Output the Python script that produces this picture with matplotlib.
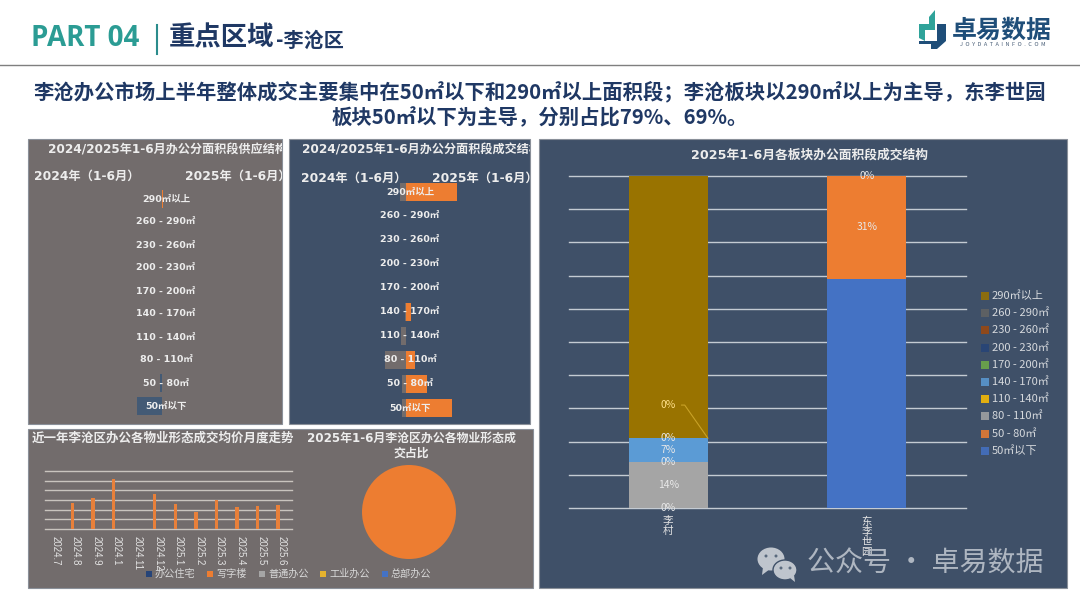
import numpy as np
import matplotlib
matplotlib.use('Agg')
import matplotlib.pyplot as plt
from matplotlib.patches import Rectangle, Polygon, Ellipse

plt.rcParams['font.family'] = ['Noto Sans CJK SC', 'DejaVu Sans']
LATIN_FIRST = ['DejaVu Sans', 'Noto Sans CJK SC']

W, H = 1080, 608
GRAY = '#726C6C'
NAVY = '#3F5068'
ORANGE = '#ED7D31'
DARK = '#1F3864'
TEXT = '#EDEDED'

# area bands, bottom to top
bands = ['50㎡以下', '50 - 80㎡', '80 - 110㎡', '110 - 140㎡', '140 - 170㎡',
         '170 - 200㎡', '200 - 230㎡', '230 - 260㎡', '260 - 290㎡', '290㎡以上']
band_colors = ['#4472C4', '#ED7D31', '#A5A5A5', '#FFC000', '#5B9BD5',
               '#70AD47', '#264478', '#9E480E', '#636363', '#997300']

# supply structure, share %
supply_2024 = [19, 1.5, 0, 0, 0, 0, 0, 0, 0, 0]
supply_2025 = [0, 0, 0, 0, 0, 0, 0, 0, 0, 1]
# deal structure, share %
deal_2024 = [3, 3, 16, 4, 1, 0, 0, 0, 0, 4.5]
deal_2025 = [35, 16, 7, 0, 4, 0, 0, 0, 0, 38.5]

# price trend
months = ['2024.7', '2024.8', '2024.9', '2024.1', '2024.11', '2024.12',
          '2025.1', '2025.2', '2025.3', '2025.4', '2025.5', '2025.6']
office_price = [0, 2690, 3200, 5170, 0, 3620, 2590, 1760, 3000, 2280, 2380, 2480]
type_names = ['办公住宅', '写字楼', '普通办公', '工业办公', '总部办公']
type_colors = ['#264478', '#ED7D31', '#A5A5A5', '#E6B32E', '#4472C4']
type_share = [0, 100, 0, 0, 0]

# sub-market structure
markets = ['李\n村', '东\n李\n世\n园']
market_shares = {
    '50㎡以下': [0, 69],
    '50 - 80㎡': [0, 31],
    '80 - 110㎡': [14, 0],
    '110 - 140㎡': [0, 0],
    '140 - 170㎡': [7, 0],
    '170 - 200㎡': [0, 0],
    '200 - 230㎡': [0, 0],
    '230 - 260㎡': [0, 0],
    '260 - 290㎡': [0, 0],
    '290㎡以上': [79, 0],
}


def px_axes(x0, y0, x1, y1):
    ax = fig.add_axes([x0 / W, 1 - y1 / H, (x1 - x0) / W, (y1 - y0) / H])
    ax.patch.set_alpha(0)
    for s in ax.spines.values():
        s.set_visible(False)
    return ax


def butterfly(box, center, top_row, step, left, right, left_color):
    x0, y0, x1, y1 = box
    ax = px_axes(x0, y0, x1, y1)
    scale = 1.32
    ax.set_xlim((x0 - center) / scale, (x1 - center) / scale)
    bottom_row = top_row + 9 * step
    ax.set_ylim(-(y1 - bottom_row) / step, (bottom_row - y0) / step)
    rows = np.arange(10)
    ax.barh(rows, -np.array(left), height=0.76, color=left_color, lw=0)
    ax.barh(rows, right, height=0.76, color=ORANGE, lw=0)
    for r, name in zip(rows, bands):
        ax.text(3, r, name, color=TEXT, fontsize=6.8, fontweight='bold',
                ha='center', va='center', family=LATIN_FIRST)
    ax.set_xticks([])
    ax.set_yticks([])
    return ax


fig = plt.figure(figsize=(W / 100, H / 100), dpi=100, facecolor='white')

# page layer in pixel coordinates
bg = fig.add_axes([0, 0, 1, 1])
bg.set_xlim(0, W)
bg.set_ylim(H, 0)
bg.axis('off')

for x0, y0, x1, y1, c in [(28, 139, 282, 424, GRAY), (289, 139, 530, 424, NAVY),
                          (28, 429, 533, 588, GRAY), (539, 139, 1067, 588, NAVY)]:
    bg.add_patch(Rectangle((x0, y0), x1 - x0, y1 - y0, fc=c, ec='#8A9099', lw=0.8))

# header
bg.text(31, 39, 'PART 04', color='#2B9C94', fontsize=20, fontweight='bold',
        family=['Open Sans', 'DejaVu Sans'], va='center')
bg.plot([157, 157], [25, 54], color='#2B8C8C', lw=1.5)
bg.text(169, 38, '重点区域', color=DARK, fontsize=19, fontweight='bold', va='center')
bg.text(276, 40, '-李沧区', color=DARK, fontsize=14.5, fontweight='bold', va='center')
bg.plot([0, W], [64.5, 64.5], color='#7F7F7F', lw=1)

bg.text(540, 92, '李沧办公市场上半年整体成交主要集中在50㎡以下和290㎡以上面积段；李沧板块以290㎡以上为主导，东李世园',
        color=DARK, fontsize=14.65, fontweight='bold', ha='center', va='center')
bg.text(540, 118, '板块50㎡以下为主导，分别占比79%、69%。',
        color=DARK, fontsize=14.65, fontweight='bold', ha='center', va='center')

# logo
bg.add_patch(Polygon([(929, 17), (935, 10), (935, 30), (929, 30)], fc='#2FA39A', lw=0))
bg.add_patch(Polygon([(919, 24), (935, 24), (935, 30), (925, 30), (925, 41), (919, 38)], fc='#2FA39A', lw=0))
bg.add_patch(Polygon([(937, 24), (946, 24), (946, 41), (937, 49), (931, 49), (931, 44), (919, 44), (919, 41), (937, 41)],
                     fc='#1F4E79', lw=0))
bg.text(1002, 31, '卓易数据', color='#1F4E79', fontsize=18, fontweight='bold', ha='center', va='center')
bg.text(1003, 44, 'J  O  Y  D  A  T  A  I  N  F  O  .  C  O  M', color='#4A5F78', fontsize=4, ha='center', va='center')

# supply butterfly
ax1 = butterfly((28, 139, 282, 424), 162, 199, 23, supply_2024, supply_2025, '#435A75')
bg_title = dict(color=TEXT, fontweight='bold', va='center', family=LATIN_FIRST, clip_on=True)
ax1.text(0.079, 0.961, '2024/2025年1-6月办公分面积段供应结构', transform=ax1.transAxes, fontsize=8.7, **bg_title)
ax1.text(0.024, 0.87, '2024年（1-6月）', transform=ax1.transAxes, fontsize=8.8, **bg_title)
ax1.text(0.62, 0.87, '2025年（1-6月）', transform=ax1.transAxes, fontsize=8.8, **bg_title)

# deal butterfly
ax2 = butterfly((289, 139, 530, 424), 406, 192, 24, deal_2024, deal_2025, GRAY)
ax2.text(0.054, 0.961, '2024/2025年1-6月办公分面积段成交结构', transform=ax2.transAxes, fontsize=8.7, **bg_title)
ax2.text(0.05, 0.863, '2024年（1-6月）', transform=ax2.transAxes, fontsize=8.8, **bg_title)
ax2.text(0.595, 0.863, '2025年（1-6月）', transform=ax2.transAxes, fontsize=8.8, **bg_title)

# price trend
ax3 = px_axes(45, 471, 292, 529)
x = np.arange(len(months))
ax3.set_axisbelow(True)
ax3.yaxis.grid(True, color='#C9C4BE', lw=1, clip_on=False)
ax3.bar(x - 0.17, office_price, width=0.17, color='#E8803A', lw=0)
ax3.set_xlim(-0.5, 11.5)
ax3.set_ylim(0, 6000)
ax3.set_yticks(np.arange(0, 7000, 1000))
ax3.set_yticklabels([])
ax3.set_xticks(x)
ax3.set_xticklabels(months, rotation=270, fontsize=6.9, color='#E3E3E3', family=['Liberation Sans'])
ax3.tick_params(length=0, pad=5)
bg.text(32, 438, '近一年李沧区办公各物业形态成交均价月度走势', color=TEXT, fontsize=9,
        fontweight='bold', va='center')

# pie
ax4 = px_axes(362, 465, 456, 559)
ax4.pie(type_share, colors=type_colors, radius=1, startangle=90,
        wedgeprops=dict(lw=0))
ax4.set_xlim(-1, 1)
ax4.set_ylim(-1, 1)
bg.text(411, 438, '2025年1-6月李沧区办公各物业形态成', color=TEXT, fontsize=8.6,
        fontweight='bold', ha='center', va='center', family=LATIN_FIRST)
bg.text(411, 453, '交占比', color=TEXT, fontsize=8.6, fontweight='bold', ha='center', va='center')

for name, c, mx in zip(type_names, type_colors, [149, 210, 262, 323, 385]):
    bg.add_patch(Rectangle((mx - 3, 571), 6, 6, fc=c, lw=0))
    bg.text(mx + 6, 574, name, color='#D8D8D8', fontsize=7.3, va='center')

# sub-market stacked bars
ax5 = px_axes(569, 176, 966, 508)
ax5.set_axisbelow(True)
ax5.yaxis.grid(True, color='#C4CBD3', lw=1, clip_on=False)
xm = np.arange(len(markets))
bottom = np.zeros(len(markets))
for name, c in zip(bands, band_colors):
    vals = np.array(market_shares[name])
    ax5.bar(xm, vals, 0.4, bottom=bottom, color=c, lw=0)
    for i, v in enumerate(vals):
        show = v > 0 and not (i == 0 and v == 79) and not (i == 1 and v == 69)
        if show:
            ax5.text(i, bottom[i] + v / 2, f'{v}%', color='#E8E8E8', fontsize=7.5,
                     ha='center', va='center')
    bottom += vals
# zero labels that the original chart keeps
for i, y, name in [(0, 0, '50㎡以下'), (0, 14, '110 - 140㎡'), (0, 21, '170 - 200㎡'), (1, 100, '290㎡以上')]:
    ax5.text(i, y, '0%', color='#E8E8E8', fontsize=7.5, ha='center', va='center')
ax5.annotate('0%', xy=(0.2, 21), xytext=(0, 31), color='#FFE08A', fontsize=7.5,
             ha='center', va='center',
             arrowprops=dict(arrowstyle='-', color='#C9A227', lw=0.8, shrinkA=2, shrinkB=0,
                             connectionstyle='angle,angleA=0,angleB=-55,rad=0'))
ax5.set_xlim(-0.5, 1.5)
ax5.set_ylim(0, 100)
ax5.set_yticks(np.arange(0, 110, 10))
ax5.set_yticklabels([])
ax5.set_xticks(xm)
ax5.set_xticklabels(markets, fontsize=7.6, color='#E3E3E3', linespacing=1.0)
ax5.tick_params(length=0, pad=6)
bg.text(810, 155, '2025年1-6月各板块办公面积段成交结构', color=TEXT, fontsize=9.2,
        fontweight='bold', ha='center', va='center', family=LATIN_FIRST)

# legend, top band first
legend_y = 296
for name, c in zip(bands[::-1], band_colors[::-1]):
    bg.add_patch(Rectangle((981, legend_y - 4), 8, 8, fc=c, lw=0, alpha=0.85))
    bg.text(992, legend_y, name, color='#D6D9DD', fontsize=8, va='center')
    legend_y += 17.2

# watermark on top
wm = fig.add_axes([0, 0, 1, 1])
wm.set_xlim(0, W)
wm.set_ylim(H, 0)
wm.axis('off')
wm.patch.set_alpha(0)
wm_c = '#AEB6C1'
wm.add_patch(Ellipse((771, 559), 27, 23, fc='#BFC5CD', lw=0))
wm.add_patch(Polygon([(763, 567), (762, 575), (770, 569)], fc='#BFC5CD', lw=0))
wm.add_patch(Ellipse((785, 570), 24, 20, fc='#BFC5CD', ec=NAVY, lw=1))
wm.add_patch(Polygon([(790, 578), (795, 582), (794, 575)], fc='#BFC5CD', lw=0))
for ex, ey, in [(766, 556), (776, 556), (781, 568), (790, 568)]:
    wm.add_patch(Ellipse((ex, ey), 3, 3, fc='#5A6A7E', lw=0))
wm.text(807, 564, '公众号 · 卓易数据', color=wm_c, fontsize=20.2, va='center')

fig.savefig('out.png', dpi=100, facecolor='white')
